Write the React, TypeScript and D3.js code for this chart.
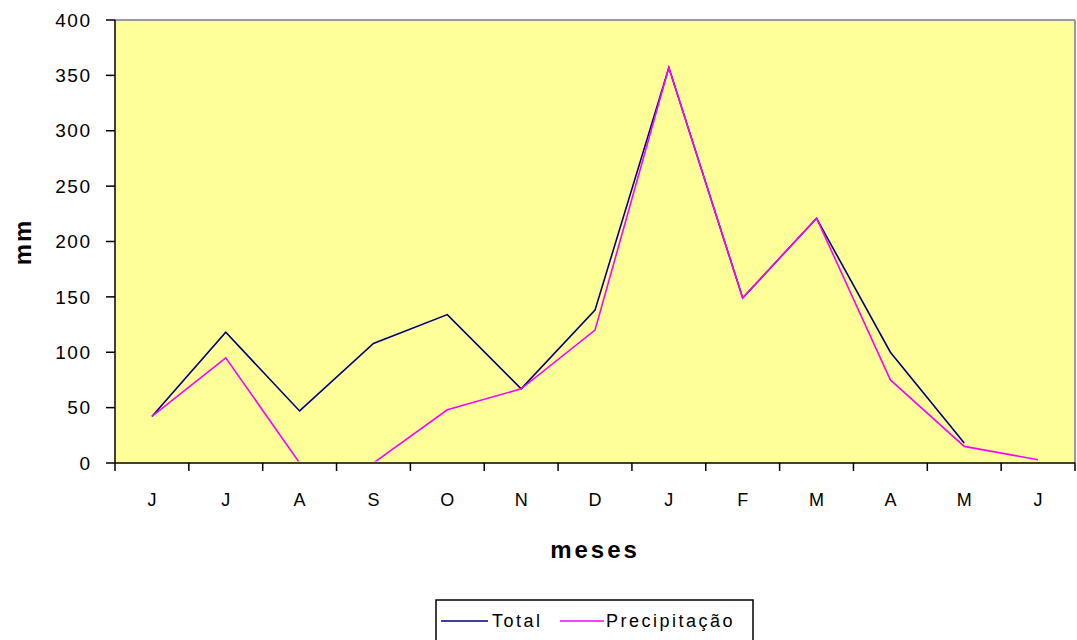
import React from "react";
import * as d3 from "d3";

const months = ["J", "J", "A", "S", "O", "N", "D", "J", "F", "M", "A", "M", "J"];
const totalValues: (number | null)[] = [42, 118, 47, 108, 134, 67, 138, 357, 149, 221, 100, 18, null];
const precipValues: (number | null)[] = [42, 95, 0, 0, 48, 67, 120, 357, 149, 221, 75, 15, 3];
const yTicks = [0, 50, 100, 150, 200, 250, 300, 350, 400];

const W = 1077;
const H = 640;
const left = 115;
const right = 1075;
const top = 20;
const bottom = 463;

export default function App() {
  const idx = months.map((_, i) => i);
  const x = d3.scaleBand<number>().domain(idx).range([left, right]).padding(0);
  const y = d3.scaleLinear().domain([0, 400]).range([bottom, top]);
  const cx = (i: number) => (x(i) as number) + x.bandwidth() / 2;

  const line = d3
    .line<number | null>()
    .defined((d) => d !== null)
    .x((_, i) => cx(i))
    .y((d) => y(d as number));

  const font = "'Liberation Sans', Arial, sans-serif";
  const boundaries = d3.range(months.length + 1).map((i) => left + i * x.step());

  return (
    <svg width={W} height={H} style={{ position: "absolute", left: 0, top: 0 }} fontFamily={font}>
      <defs>
        <clipPath id="plotClip">
          <rect x={left} y={top} width={right - left} height={bottom - top - 1.5} />
        </clipPath>
      </defs>
      <rect x={0} y={0} width={W} height={H} fill="#fff" />
      <rect x={left} y={top} width={right - left} height={bottom - top} fill="#FFFF99" />
      <line x1={left} x2={right} y1={top} y2={top} stroke="#999" strokeWidth={2} />
      <line x1={right} x2={right} y1={top} y2={bottom} stroke="#999" strokeWidth={2} />

      <g clipPath="url(#plotClip)">
        <path d={line(totalValues) || ""} fill="none" stroke="#000080" strokeWidth={1.6} />
        <path d={line(precipValues) || ""} fill="none" stroke="#FF00FF" strokeWidth={1.6} />
      </g>

      {/* axes */}
      <line x1={left} x2={left} y1={top} y2={bottom} stroke="#000" strokeWidth={1.5} />
      <line x1={left} x2={right} y1={bottom} y2={bottom} stroke="#000" strokeWidth={1.5} />
      {yTicks.map((t) => (
        <g key={t}>
          <line x1={left - 9} x2={left} y1={y(t)} y2={y(t)} stroke="#000" strokeWidth={1.5} />
          <text x={91.5} y={y(t)} dy="0.35em" textAnchor="end" fontSize={19} letterSpacing={1.5} fill="#000">
            {t}
          </text>
        </g>
      ))}
      {boundaries.map((b, i) => (
        <line key={i} x1={b} x2={b} y1={bottom} y2={bottom + 8} stroke="#000" strokeWidth={1.5} />
      ))}
      {months.map((m, i) => (
        <text key={i} x={cx(i)} y={500} dy="0.35em" textAnchor="middle" fontSize={18} fill="#000">
          {m}
        </text>
      ))}

      <text
        transform={`translate(23, 242) rotate(-90)`}
        textAnchor="middle"
        dy="0.35em"
        fontSize={24}
        fontWeight="bold"
        letterSpacing={2}
      >
        mm
      </text>
      <text x={595} y={550} dy="0.35em" textAnchor="middle" fontSize={24} fontWeight="bold" letterSpacing={3}>
        meses
      </text>

      {/* legend */}
      <rect x={436} y={600} width={317} height={44} fill="#fff" stroke="#000" strokeWidth={1.5} />
      <line x1={441} x2={488} y1={621} y2={621} stroke="#000080" strokeWidth={1.5} />
      <text x={492} y={621} dy="0.35em" fontSize={18} letterSpacing={2.5}>
        Total
      </text>
      <line x1={560} x2={604} y1={621} y2={621} stroke="#FF00FF" strokeWidth={1.5} />
      <text x={606} y={621} dy="0.35em" fontSize={18} letterSpacing={2.5}>
        Precipitação
      </text>
    </svg>
  );
}
